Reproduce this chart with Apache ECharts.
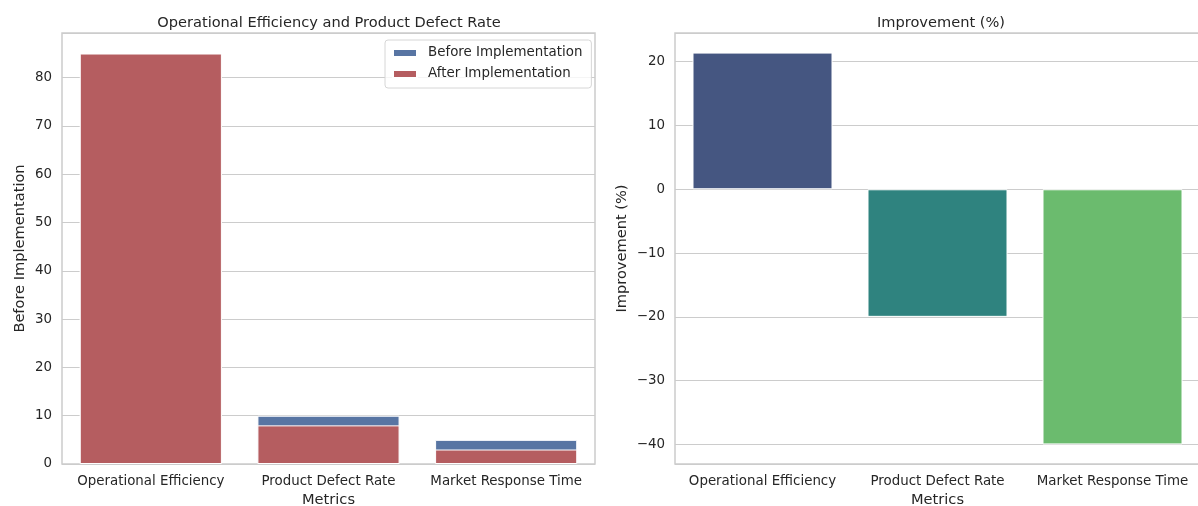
<!DOCTYPE html>
<html>
<head>
<meta charset="utf-8">
<script src="https://cdn.jsdelivr.net/npm/echarts@6/dist/echarts.min.js"></script>
<style>
html,body{margin:0;padding:0;background:#fff;}
#chart{width:1198px;height:506px;}
</style>
</head>
<body>
<div id="chart"></div>
<script>
// ---- data ----
const categories = ['Operational Efficiency', 'Product Defect Rate', 'Market Response Time'];
const beforeValues = [70, 10, 5];
const afterValues = [85, 8, 3];
const improvementValues = [21.43, -20, -40];
const seriesNames = ['Before Implementation', 'After Implementation'];
const leftTitle = 'Operational Efficiency and Product Defect Rate';
const rightTitle = 'Improvement (%)';
const xAxisName = 'Metrics';
const leftYName = 'Before Implementation';
const rightYName = 'Improvement (%)';

// ---- styles ----
const FONT = 'DejaVu Sans';
const TXT = '#262626';
const GRIDC = '#cccccc';
const beforeColor = '#5875A3';
const afterColor = '#B55D60';
const improvementColors = ['#455681', '#2F837F', '#6BBB6E'];
const tickFs = 13.4, labelFs = 14.6;

const minusFmt = v => String(Math.round(v)).replace('-', '\u2212');

function xAxis(idx) {
  return {
    type: 'category', gridIndex: idx, data: categories,
    axisLine: {show: false}, axisTick: {show: false},
    axisLabel: {color: TXT, fontFamily: FONT, fontSize: tickFs, margin: 11, interval: 0},
    splitLine: {show: false},
    name: xAxisName, nameLocation: 'middle', nameGap: 28,
    nameTextStyle: {color: TXT, fontFamily: FONT, fontSize: labelFs}
  };
}
function yAxis(idx, min, max, split, name, gap) {
  return {
    type: 'value', gridIndex: idx, min: min, max: max, splitNumber: split,
    axisLine: {show: false}, axisTick: {show: false},
    axisLabel: {color: TXT, fontFamily: FONT, fontSize: tickFs, margin: 10,
      showMinLabel: idx === 0, showMaxLabel: false, formatter: minusFmt},
    splitLine: {show: true, lineStyle: {color: GRIDC, width: 1.2}},
    name: name, nameLocation: 'middle', nameGap: gap, nameRotate: 90,
    nameTextStyle: {color: TXT, fontFamily: FONT, fontSize: labelFs}
  };
}

const chart = echarts.init(document.getElementById('chart'), null, {renderer: 'canvas'});
chart.setOption({
  backgroundColor: '#ffffff',
  animation: false,
  title: [
    {text: leftTitle, left: 324, top: 11, textAlign: 'center',
      textStyle: {color: TXT, fontFamily: FONT, fontSize: labelFs, fontWeight: 'normal'}},
    {text: rightTitle, left: 936, top: 11, textAlign: 'center',
      textStyle: {color: TXT, fontFamily: FONT, fontSize: labelFs, fontWeight: 'normal'}}
  ],
  legend: {
    data: seriesNames, orient: 'vertical', left: 385, top: 40,
    icon: 'rect', itemWidth: 24, itemHeight: 8, itemGap: 5,
    padding: [5, 9, 6, 7],
    backgroundColor: 'rgba(255,255,255,0.8)', borderColor: '#d6d6d6', borderWidth: 1, borderRadius: 3,
    textStyle: {color: TXT, fontFamily: FONT, fontSize: tickFs, lineHeight: 16, padding: [0, 0, 0, 6]}
  },
  grid: [
    {left: 62, top: 33, width: 533, height: 431, show: true, borderColor: GRIDC, borderWidth: 1.5,
      backgroundColor: 'transparent', outerBoundsMode: 'none', containLabel: false},
    {left: 675, top: 33, width: 525, height: 431, show: true, borderColor: GRIDC, borderWidth: 1.5,
      backgroundColor: 'transparent', outerBoundsMode: 'none', containLabel: false}
  ],
  xAxis: [xAxis(0), xAxis(1)],
  yAxis: [
    yAxis(0, 0, 89.25, 9, leftYName, 34),
    yAxis(1, -43.07, 24.5, 7, rightYName, 45)
  ],
  series: [
    {name: seriesNames[0], type: 'bar', xAxisIndex: 0, yAxisIndex: 0, data: beforeValues,
      barCategoryGap: '20%', barGap: '-100%',
      itemStyle: {color: beforeColor, borderColor: '#ffffff', borderWidth: 1}},
    {name: seriesNames[1], type: 'bar', xAxisIndex: 0, yAxisIndex: 0, data: afterValues,
      barCategoryGap: '20%', barGap: '-100%',
      itemStyle: {color: afterColor, borderColor: '#ffffff', borderWidth: 1}},
    {name: rightYName, type: 'bar', xAxisIndex: 1, yAxisIndex: 1,
      data: improvementValues.map((v, i) => ({value: v, itemStyle: {color: improvementColors[i]}})),
      barCategoryGap: '20%',
      itemStyle: {borderColor: '#ffffff', borderWidth: 1}}
  ]
});
</script>
</body>
</html>
